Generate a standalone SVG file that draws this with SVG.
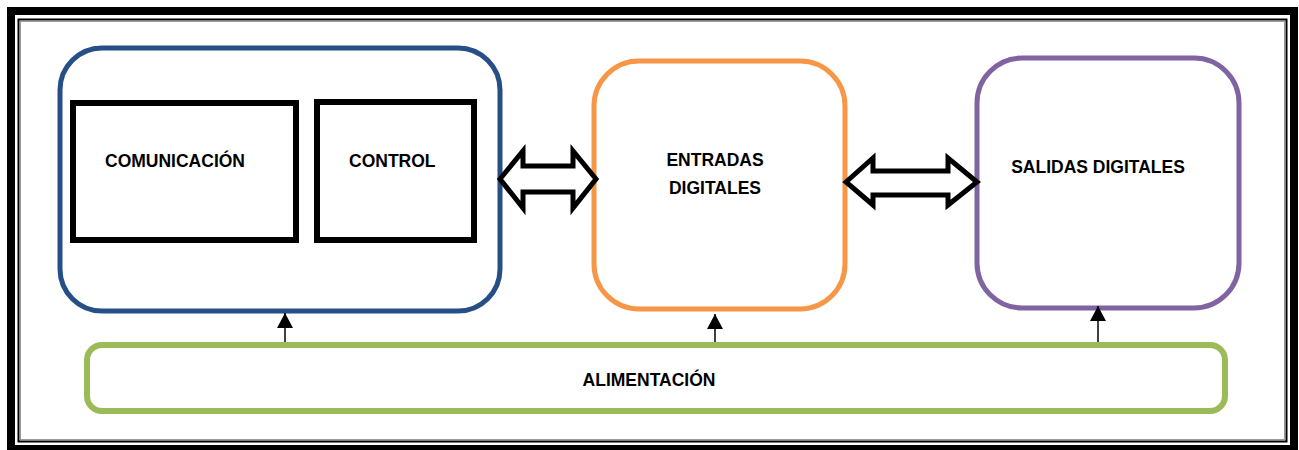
<svg xmlns="http://www.w3.org/2000/svg" width="1299" height="450" viewBox="0 0 1299 450">
<style>
text{font-family:"Liberation Sans",Arial,sans-serif;font-weight:bold;font-size:17.5px;fill:#000}
.box{fill:#fff;stroke-width:5}
.inner{fill:#fff;stroke:#000;stroke-width:6}
.dbl{fill:#fff;stroke:#000;stroke-width:5;stroke-linejoin:miter}
.pw{stroke:#000;stroke-width:1.5;fill:none}
</style>
<defs>
<marker id="ah" markerWidth="16" markerHeight="16" refX="15" refY="8" orient="auto" markerUnits="userSpaceOnUse" viewBox="0 0 16 16">
<path d="M0,0 L15,8 L0,16 Z" fill="#000"/>
</marker>
</defs>
<rect x="0" y="0" width="1299" height="450" fill="#fff"/>
<g id="frame">
<rect x="11" y="11" width="1283" height="438" fill="none" stroke="#000" stroke-width="8"/>
<rect x="18.5" y="19.5" width="1268" height="422" fill="none" stroke="#000" stroke-width="2"/>
<rect x="20.5" y="21.5" width="1264" height="418" fill="none" stroke="#999" stroke-width="1"/>
</g>
<g id="main">
<rect class="box" x="60" y="48" width="440" height="263" rx="42" stroke="#254f86"/>
</g>
<g id="comunicacion">
<rect class="inner" x="73" y="103" width="223" height="137"/>
<text x="105" y="167">COMUNICACIÓN</text>
</g>
<g id="control">
<rect class="inner" x="317" y="102" width="157" height="138"/>
<text x="349" y="167">CONTROL</text>
</g>
<g id="entradas">
<rect class="box" x="594" y="61" width="251" height="248" rx="45" stroke="#f79646"/>
<text x="715" y="166" text-anchor="middle">ENTRADAS</text>
<text x="715" y="194" text-anchor="middle">DIGITALES</text>
</g>
<g id="salidas">
<rect class="box" x="977" y="58" width="262" height="250" rx="45" stroke="#8064a2"/>
<text x="1098" y="173" text-anchor="middle">SALIDAS DIGITALES</text>
</g>
<g id="alimentacion">
<rect x="87" y="345" width="1138" height="66" rx="15" fill="#fff" stroke="#9bbb59" stroke-width="6"/>
<text x="649" y="386" text-anchor="middle">ALIMENTACIÓN</text>
</g>
<g id="connectors">
<polygon class="dbl" points="500,179 523,151 523,166 573,166 573,151 596,179 573,208 573,192 523,192 523,208"/>
<polygon class="dbl" points="846,182 873,158 873,171 948,171 948,158 977,182 948,205 948,195 873,195 873,205"/>
<line class="pw" x1="285" y1="342" x2="285" y2="313" marker-end="url(#ah)"/>
<line class="pw" x1="715" y1="342" x2="715" y2="314" marker-end="url(#ah)"/>
<line class="pw" x1="1098" y1="342" x2="1098" y2="306" marker-end="url(#ah)"/>
</g>
</svg>
